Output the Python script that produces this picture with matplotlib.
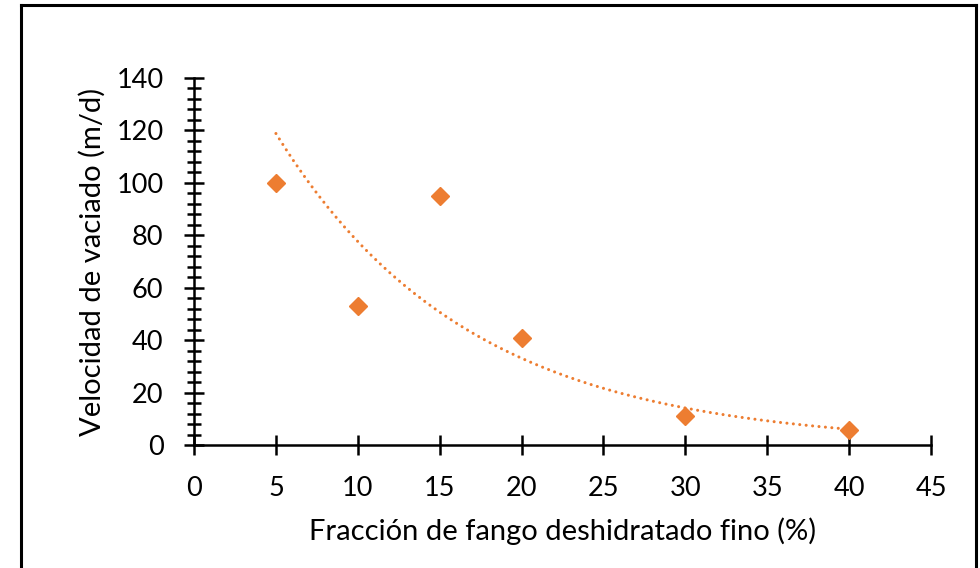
import numpy as np
import matplotlib.pyplot as plt
from matplotlib.lines import Line2D
from matplotlib.ticker import MultipleLocator

OUTPUT_PATH = "out.png"

fraccion = [5, 10, 15, 20, 30, 40]
velocidad = [100, 53, 95, 41, 11, 5.8]
x_ticks = [0, 5, 10, 15, 20, 25, 30, 35, 40, 45]
y_ticks = [0, 20, 40, 60, 80, 100, 120, 140]

ORANGE = "#ED7D31"

plt.rcParams["font.family"] = ["Lato", "DejaVu Sans"]


def exp_trend(x, y):
    # same as an Excel exponential trendline: least squares on ln(y)
    b, ln_a = np.polyfit(x, np.log(y), 1)
    xs = np.linspace(min(x), max(x), 200)
    return xs, np.exp(ln_a) * np.exp(b * xs)


fig = plt.figure(figsize=(9.8, 5.68), dpi=100)
ax = fig.add_axes([0.198, 0.2165, 0.752, 0.6462])

tx, ty = exp_trend(fraccion, velocidad)
ax.plot(tx, ty, color=ORANGE, linewidth=2.2, linestyle=(0, (0.01, 2.1)),
        dash_capstyle="round")
ax.plot(fraccion, velocidad, linestyle="none", marker="D", markersize=9,
        color=ORANGE)

ax.set_xlim(0, 45)
ax.set_ylim(0, 140)
ax.set_xticks(x_ticks)
ax.set_yticks(y_ticks)
ax.yaxis.set_minor_locator(MultipleLocator(4))

for side in ["top", "right"]:
    ax.spines[side].set_visible(False)
for side in ["left", "bottom"]:
    ax.spines[side].set_linewidth(1.8)

ax.tick_params(axis="both", which="major", direction="inout", length=14,
               width=1.8, labelsize=19.5, pad=15)
ax.tick_params(axis="y", which="minor", direction="inout", length=10, width=1.8)

ax.set_xlabel("Fracción de fango deshidratado fino (%)", fontsize=21, labelpad=12)
ax.set_ylabel("Velocidad de vaciado (m/d)", fontsize=21, labelpad=8)

# frame around the whole chart (open at the bottom, as in the original)
frame = dict(color="black", linewidth=2.2, transform=fig.transFigure)
fig.add_artist(Line2D([0.021, 0.021], [0.0, 0.991], **frame))
fig.add_artist(Line2D([0.021, 0.996], [0.991, 0.991], **frame))
fig.add_artist(Line2D([0.996, 0.996], [0.991, 0.0], **frame))

fig.savefig(OUTPUT_PATH, dpi=100)
plt.close(fig)
